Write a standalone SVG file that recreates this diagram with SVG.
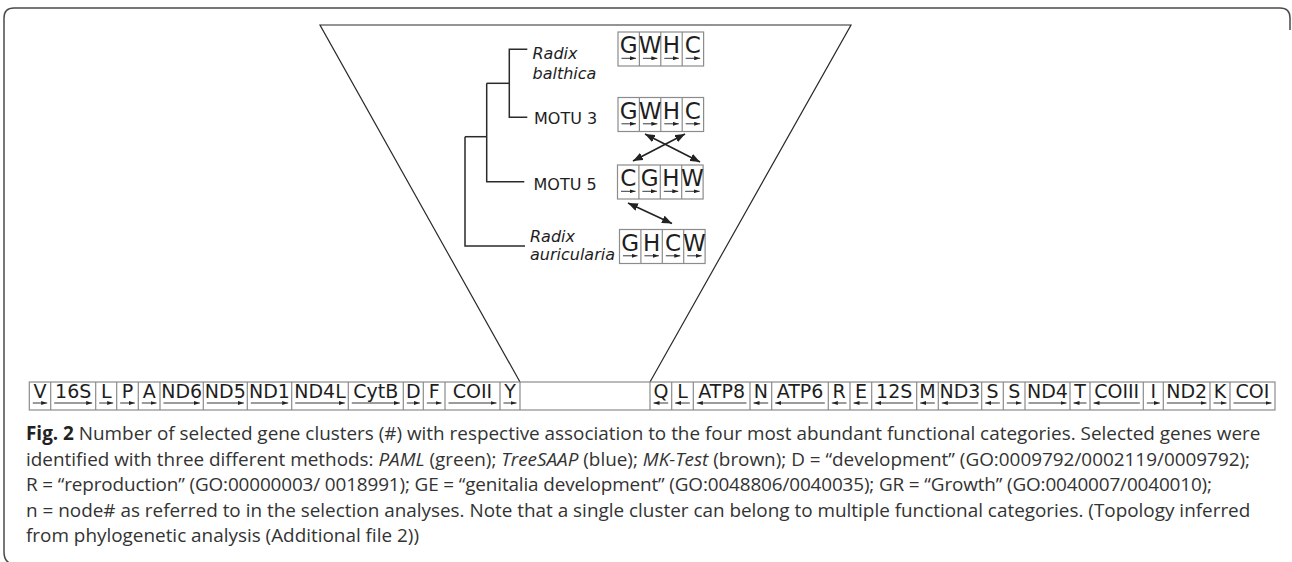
<svg xmlns="http://www.w3.org/2000/svg" width="1292" height="562" viewBox="0 0 1292 562">
  <style>
    .frame { fill: none; stroke: #4a4a4a; stroke-width: 1.5; }
    .edge { fill: none; stroke: #2a2a2a; stroke-width: 1.5; }
    .funnel { fill: none; stroke: #2a2a2a; stroke-width: 1.2; }
    .box { fill: #fff; stroke: #8c8c8c; stroke-width: 1.2; }
    .div { stroke: #8c8c8c; stroke-width: 1.2; }
    .cat { font-family: "DejaVu Sans", sans-serif; font-size: 23px; fill: #1e1e1e; text-anchor: middle; }
    .gene { font-family: "DejaVu Sans", sans-serif; font-size: 19px; fill: #1e1e1e; text-anchor: middle; }
    .taxon { font-family: "DejaVu Sans", sans-serif; font-size: 16px; fill: #1e1e1e; }
    .it { font-style: italic; }
    .dir line { stroke: #222; stroke-width: 0.9; marker-end: url(#tip); }
    .swap { stroke: #222; stroke-width: 1.6; fill: none; marker-start: url(#head); marker-end: url(#head); }
    .cap { font-family: "Open Sans", "Noto Sans", sans-serif; font-size: 18.9px; fill: #333; }
    .capb { font-weight: bold; fill: #222; }
  </style>
  <defs>
    <marker id="tip" viewBox="0 0 6 4" refX="6" refY="2" markerWidth="6" markerHeight="4" orient="auto" markerUnits="userSpaceOnUse">
      <path d="M0,0 L6,2 L0,4 z" fill="#222"/>
    </marker>
    <marker id="head" viewBox="0 0 10 8" refX="10" refY="4" markerWidth="10" markerHeight="8" orient="auto-start-reverse" markerUnits="userSpaceOnUse">
      <path d="M0,0 L10,4 L0,8 z" fill="#222"/>
    </marker>
  </defs>

  <!-- figure frame -->
  <path class="frame" d="M4,552 L4,18 Q4,8 14,8 L1280,8 Q1290,8 1290,18 L1290,30 M4,552 Q4,562 12,564"/>

  <g id="connectors">
    <!-- zoom funnel from the genome bar up to the tree panel -->
    <path class="funnel" d="M520,382 L320,25 L851,25 L650,382"/>
    <!-- tree branches -->
    <path class="edge" d="M527.3,49.3 H509.3 V117.3 H527.3"/>
    <path class="edge" d="M509.3,83.3 H486.7"/>
    <path class="edge" d="M486.7,83.3 V181.7 H524.3"/>
    <path class="edge" d="M486.7,136.7 H465"/>
    <path class="edge" d="M465,136.7 V246 H525"/>
    <!-- order swaps between adjacent category strings -->
    <line class="swap" x1="645" y1="134" x2="700" y2="162"/>
    <line class="swap" x1="685" y1="134" x2="633" y2="161"/>
    <line class="swap" x1="628" y1="203" x2="672" y2="223.5"/>
  </g>

  <!-- taxa -->
  <g id="taxon-balthica">
    <text class="taxon it" x="532.5" y="58.5">Radix</text>
    <text class="taxon it" x="532.5" y="78.5">balthica</text>
  </g>
  <g id="taxon-motu3">
    <text class="taxon" x="534" y="123.5">MOTU 3</text>
  </g>
  <g id="taxon-motu5">
    <text class="taxon" x="533.5" y="189.5">MOTU 5</text>
  </g>
  <g id="taxon-auricularia">
    <text class="taxon it" x="530" y="241.5">Radix</text>
    <text class="taxon it" x="530" y="260">auricularia</text>
  </g>

  <!-- category order strings (cell width 21.4) -->
  <g id="order-balthica">
    <rect class="box" x="618" y="32" width="85.6" height="34"/>
    <path class="div" d="M639.4,32 V66 M660.8,32 V66 M682.2,32 V66"/>
    <text class="cat" x="628.7" y="53.3">G</text>
    <text class="cat" x="650.1" y="53.3">W</text>
    <text class="cat" x="671.5" y="53.3">H</text>
    <text class="cat" x="692.9" y="53.3">C</text>
    <g class="dir">
      <line x1="621.5" y1="58.3" x2="636" y2="58.3"/>
      <line x1="642.9" y1="58.3" x2="657.4" y2="58.3"/>
      <line x1="664.3" y1="58.3" x2="678.8" y2="58.3"/>
      <line x1="685.7" y1="58.3" x2="700.2" y2="58.3"/>
    </g>
  </g>
  <g id="order-motu3">
    <rect class="box" x="618" y="97.5" width="85.6" height="34"/>
    <path class="div" d="M639.4,97.5 V131.5 M660.8,97.5 V131.5 M682.2,97.5 V131.5"/>
    <text class="cat" x="628.7" y="118.8">G</text>
    <text class="cat" x="650.1" y="118.8">W</text>
    <text class="cat" x="671.5" y="118.8">H</text>
    <text class="cat" x="692.9" y="118.8">C</text>
    <g class="dir">
      <line x1="621.5" y1="123.8" x2="636" y2="123.8"/>
      <line x1="642.9" y1="123.8" x2="657.4" y2="123.8"/>
      <line x1="664.3" y1="123.8" x2="678.8" y2="123.8"/>
      <line x1="685.7" y1="123.8" x2="700.2" y2="123.8"/>
    </g>
  </g>
  <g id="order-motu5">
    <rect class="box" x="617.5" y="165" width="85.6" height="34"/>
    <path class="div" d="M638.9,165 V199 M660.3,165 V199 M681.7,165 V199"/>
    <text class="cat" x="628.2" y="186.3">C</text>
    <text class="cat" x="649.6" y="186.3">G</text>
    <text class="cat" x="671" y="186.3">H</text>
    <text class="cat" x="692.4" y="186.3">W</text>
    <g class="dir">
      <line x1="621" y1="191.3" x2="635.5" y2="191.3"/>
      <line x1="642.4" y1="191.3" x2="656.9" y2="191.3"/>
      <line x1="663.8" y1="191.3" x2="678.3" y2="191.3"/>
      <line x1="685.2" y1="191.3" x2="699.7" y2="191.3"/>
    </g>
  </g>
  <g id="order-auricularia">
    <rect class="box" x="619.5" y="229.5" width="85.6" height="34"/>
    <path class="div" d="M640.9,229.5 V263.5 M662.3,229.5 V263.5 M683.7,229.5 V263.5"/>
    <text class="cat" x="630.2" y="250.8">G</text>
    <text class="cat" x="651.6" y="250.8">H</text>
    <text class="cat" x="673" y="250.8">C</text>
    <text class="cat" x="694.4" y="250.8">W</text>
    <g class="dir">
      <line x1="623" y1="255.8" x2="637.5" y2="255.8"/>
      <line x1="644.4" y1="255.8" x2="658.9" y2="255.8"/>
      <line x1="665.8" y1="255.8" x2="680.3" y2="255.8"/>
      <line x1="687.2" y1="255.8" x2="701.7" y2="255.8"/>
    </g>
  </g>

  <!-- mitochondrial genome bar -->
  <g id="genome">
    <rect class="box" x="29.3" y="382" width="1245.7" height="28"/>
    <path class="div" d="M50.7,382 V410 M95.7,382 V410 M116.7,382 V410 M138.3,382 V410 M160,382 V410 M203.3,382 V410 M247.3,382 V410 M291.7,382 V410 M348.3,382 V410 M403.3,382 V410 M423.3,382 V410 M445,382 V410 M500,382 V410 M520,382 V410
      M650,382 V410 M671.7,382 V410 M693.3,382 V410 M750,382 V410 M771.7,382 V410 M828.3,382 V410 M850,382 V410 M871.7,382 V410 M916.7,382 V410 M938.3,382 V410 M981.7,382 V410 M1003.3,382 V410 M1025,382 V410 M1070,382 V410 M1090,382 V410 M1143.3,382 V410 M1163.3,382 V410 M1210,382 V410 M1230,382 V410"/>
    <g>
      <text class="gene" x="40" y="398">V</text>
      <text class="gene" x="73.2" y="398">16S</text>
      <text class="gene" x="106.2" y="398">L</text>
      <text class="gene" x="127.5" y="398">P</text>
      <text class="gene" x="149.2" y="398">A</text>
      <text class="gene" x="181.7" y="398">ND6</text>
      <text class="gene" x="225.3" y="398">ND5</text>
      <text class="gene" x="269.5" y="398">ND1</text>
      <text class="gene" x="320" y="398">ND4L</text>
      <text class="gene" x="375.8" y="398">CytB</text>
      <text class="gene" x="413.3" y="398">D</text>
      <text class="gene" x="434.2" y="398">F</text>
      <text class="gene" x="472.5" y="398">COII</text>
      <text class="gene" x="510" y="398">Y</text>
      <text class="gene" x="660.9" y="398">Q</text>
      <text class="gene" x="682.5" y="398">L</text>
      <text class="gene" x="721.7" y="398">ATP8</text>
      <text class="gene" x="760.9" y="398">N</text>
      <text class="gene" x="800" y="398">ATP6</text>
      <text class="gene" x="839.2" y="398">R</text>
      <text class="gene" x="860.9" y="398">E</text>
      <text class="gene" x="894.2" y="398">12S</text>
      <text class="gene" x="927.5" y="398">M</text>
      <text class="gene" x="960" y="398">ND3</text>
      <text class="gene" x="992.5" y="398">S</text>
      <text class="gene" x="1014.2" y="398">S</text>
      <text class="gene" x="1047.5" y="398">ND4</text>
      <text class="gene" x="1080" y="398">T</text>
      <text class="gene" x="1116.7" y="398">COIII</text>
      <text class="gene" x="1153.3" y="398">I</text>
      <text class="gene" x="1186.7" y="398">ND2</text>
      <text class="gene" x="1220" y="398">K</text>
      <text class="gene" x="1252.5" y="398">COI</text>
    </g>
    <!-- strand direction of each gene -->
    <g class="dir">
      <line x1="32.8" y1="403" x2="47.2" y2="403"/>
      <line x1="54.2" y1="403" x2="92.2" y2="403"/>
      <line x1="99.2" y1="403" x2="113.2" y2="403"/>
      <line x1="120.2" y1="403" x2="134.8" y2="403"/>
      <line x1="141.8" y1="403" x2="156.5" y2="403"/>
      <line x1="163.5" y1="403" x2="199.8" y2="403"/>
      <line x1="206.8" y1="403" x2="243.8" y2="403"/>
      <line x1="250.8" y1="403" x2="288.2" y2="403"/>
      <line x1="295.2" y1="403" x2="344.8" y2="403"/>
      <line x1="351.8" y1="403" x2="399.8" y2="403"/>
      <line x1="406.8" y1="403" x2="419.8" y2="403"/>
      <line x1="426.8" y1="403" x2="441.5" y2="403"/>
      <line x1="448.5" y1="403" x2="496.5" y2="403"/>
      <line x1="503.5" y1="403" x2="516.5" y2="403"/>
      <line x1="668.2" y1="403" x2="653.5" y2="403"/>
      <line x1="689.8" y1="403" x2="675.2" y2="403"/>
      <line x1="746.5" y1="403" x2="696.8" y2="403"/>
      <line x1="768.2" y1="403" x2="753.5" y2="403"/>
      <line x1="824.8" y1="403" x2="775.2" y2="403"/>
      <line x1="846.5" y1="403" x2="831.8" y2="403"/>
      <line x1="868.2" y1="403" x2="853.5" y2="403"/>
      <line x1="913.2" y1="403" x2="875.2" y2="403"/>
      <line x1="934.8" y1="403" x2="920.2" y2="403"/>
      <line x1="978.2" y1="403" x2="941.8" y2="403"/>
      <line x1="999.8" y1="403" x2="985.2" y2="403"/>
      <line x1="1006.8" y1="403" x2="1021.5" y2="403"/>
      <line x1="1028.5" y1="403" x2="1066.5" y2="403"/>
      <line x1="1086.5" y1="403" x2="1073.5" y2="403"/>
      <line x1="1139.8" y1="403" x2="1093.5" y2="403"/>
      <line x1="1146.8" y1="403" x2="1159.8" y2="403"/>
      <line x1="1166.8" y1="403" x2="1206.5" y2="403"/>
      <line x1="1213.5" y1="403" x2="1226.5" y2="403"/>
      <line x1="1233.5" y1="403" x2="1271.5" y2="403"/>
    </g>
  </g>

  <!-- caption -->
  <g id="caption">
    <text class="cap" x="26" y="440"><tspan class="capb">Fig. 2</tspan> Number of selected gene clusters (#) with respective association to the four most abundant functional categories. Selected genes were</text>
    <text class="cap" x="26" y="465.5">identified with three different methods: <tspan class="it">PAML</tspan> (green); <tspan class="it">TreeSAAP</tspan> (blue); <tspan class="it">MK-Test</tspan> (brown); D = “development” (GO:0009792/0002119/0009792);</text>
    <text class="cap" x="26" y="491" textLength="1186" lengthAdjust="spacing">R = “reproduction” (GO:00000003/ 0018991); GE = “genitalia development” (GO:0048806/0040035); GR = “Growth” (GO:0040007/0040010);</text>
    <text class="cap" x="26" y="516.5">n = node# as referred to in the selection analyses. Note that a single cluster can belong to multiple functional categories. (Topology inferred</text>
    <text class="cap" x="26" y="542">from phylogenetic analysis (Additional file 2))</text>
  </g>
</svg>
